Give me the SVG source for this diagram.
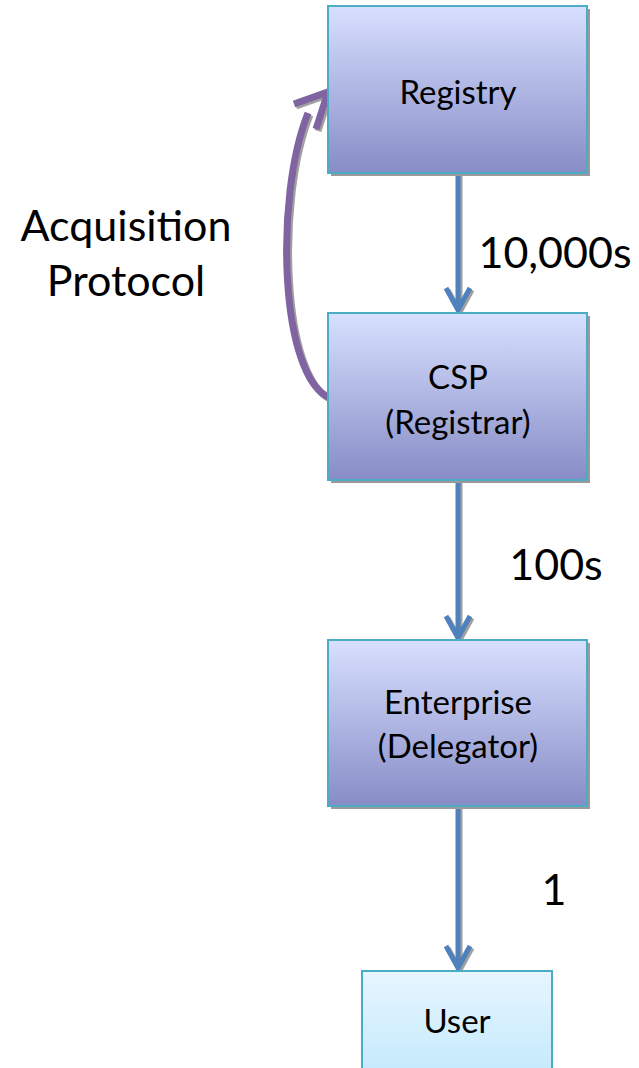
<svg xmlns="http://www.w3.org/2000/svg" width="639" height="1068" viewBox="0 0 639 1068">
<defs>
<linearGradient id="gBox" x1="0" y1="0" x2="0" y2="1">
<stop offset="0" stop-color="#d8e0ff"/>
<stop offset="1" stop-color="#878cc6"/>
</linearGradient>
<linearGradient id="gUser" x1="0" y1="0" x2="0" y2="1">
<stop offset="0" stop-color="#e6f6ff"/>
<stop offset="1" stop-color="#c3e9fb"/>
</linearGradient>
</defs>
<style>
.box{stroke:#4bacc6;stroke-width:2}
.shadow{fill:#9a9a9a}
.t{font-family:Lato,"Liberation Sans",sans-serif;fill:#000;text-anchor:middle}
.nt{font-size:33px}
.lt{font-size:43px}
.conn{fill:none;stroke:#4f81bd;stroke-width:5}
.connS{fill:none;stroke:#a0a0a0;stroke-width:5}
.acq{fill:none;stroke:#8064a2;stroke-width:7}
.acqS{fill:none;stroke:#a0a0a0;stroke-width:7}
</style>
<rect width="639" height="1068" fill="#fff"/>
<g id="connectors">
<path class="connS" d="M460 175V308M448 290L460 312L472 290"/>
<path class="conn" d="M458 173V308M446 288L458 310L470 288"/>
<path class="connS" d="M460 482V634M448 618L460 640L472 618"/>
<path class="conn" d="M458 480V634M446 616L458 638L470 616"/>
<path class="connS" d="M460 808V966M448 948L460 970L472 948"/>
<path class="conn" d="M458 806V966M446 946L458 968L470 946"/>
<path class="acqS" d="M332 400C282 380 276 200 310 115M296 106L330 94L318 131"/>
<path class="acq" d="M330 398C280 378 274 198 308 113M294 104L328 92L316 129"/>
</g>
<g id="registry">
<rect class="shadow" x="331" y="9" width="259" height="167"/>
<rect class="box" x="328" y="6" width="259" height="167" fill="url(#gBox)"/>
<text class="t nt" x="458" y="104">Registry</text>
</g>
<g id="csp">
<rect class="shadow" x="331" y="316" width="259" height="167"/>
<rect class="box" x="328" y="313" width="259" height="167" fill="url(#gBox)"/>
<text class="t nt" x="458" y="389">CSP</text>
<text class="t nt" x="458" y="434">(Registrar)</text>
</g>
<g id="enterprise">
<rect class="shadow" x="331" y="643" width="259" height="166"/>
<rect class="box" x="328" y="640" width="259" height="166" fill="url(#gBox)"/>
<text class="t nt" x="458" y="714">Enterprise</text>
<text class="t nt" x="458" y="758">(Delegator)</text>
</g>
<g id="user">
<rect class="box" x="362" y="971" width="190" height="110" fill="url(#gUser)"/>
<text class="t nt" x="457" y="1033">User</text>
</g>
<g id="labels">
<text class="t lt" x="126" y="241">Acquisition</text>
<text class="t lt" x="126" y="296">Protocol</text>
<text class="t lt" x="555" y="268">10,000s</text>
<text class="t lt" x="556" y="580">100s</text>
<text class="t lt" x="554" y="905">1</text>
</g>
</svg>
